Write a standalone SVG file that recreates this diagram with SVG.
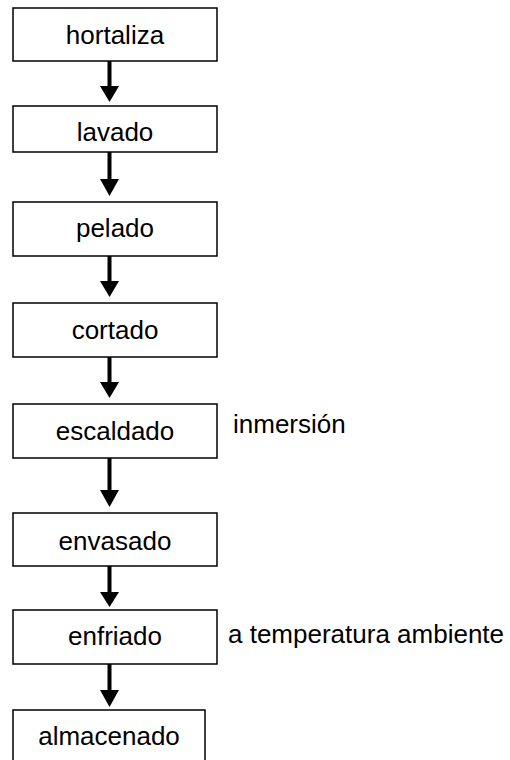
<svg xmlns="http://www.w3.org/2000/svg" width="510" height="760" viewBox="0 0 510 760">
<style>
.box{fill:#fff;stroke:#000;stroke-width:1.5}
.lbl{font-family:"Liberation Sans",Arial,sans-serif;font-size:26px;fill:#000}
.mid{text-anchor:middle}
.shaft{stroke:#000;stroke-width:4;fill:none}
.head{fill:#000}
</style>
<rect width="510" height="760" fill="#fff"/>
<g id="connectors">
<line class="shaft" x1="109.5" y1="61" x2="109.5" y2="88"/><polygon class="head" points="100,86 119,86 109.5,102"/>
<line class="shaft" x1="109.5" y1="152" x2="109.5" y2="181"/><polygon class="head" points="100,179 119,179 109.5,196"/>
<line class="shaft" x1="109.5" y1="256" x2="109.5" y2="283"/><polygon class="head" points="100,281 119,281 109.5,297"/>
<line class="shaft" x1="109.5" y1="357" x2="109.5" y2="384"/><polygon class="head" points="100,382 119,382 109.5,398"/>
<line class="shaft" x1="109.5" y1="458" x2="109.5" y2="492"/><polygon class="head" points="100,490 119,490 109.5,507"/>
<line class="shaft" x1="109.5" y1="566" x2="109.5" y2="594"/><polygon class="head" points="100,592 119,592 109.5,607"/>
<line class="shaft" x1="109.5" y1="664" x2="109.5" y2="692"/><polygon class="head" points="100,690 119,690 109.5,707"/>
</g>
<g id="n1"><rect class="box" x="13" y="8" width="204" height="53"/><text class="lbl mid" x="115" y="44">hortaliza</text></g>
<g id="n2"><rect class="box" x="13" y="106" width="204" height="46"/><text class="lbl mid" x="115" y="141">lavado</text></g>
<g id="n3"><rect class="box" x="13" y="202" width="204" height="54"/><text class="lbl mid" x="115" y="237">pelado</text></g>
<g id="n4"><rect class="box" x="13" y="303" width="204" height="54"/><text class="lbl mid" x="115" y="339">cortado</text></g>
<g id="n5"><rect class="box" x="13" y="404" width="204" height="54"/><text class="lbl mid" x="115" y="440">escaldado</text></g>
<g id="n6"><rect class="box" x="13" y="513" width="204" height="53"/><text class="lbl mid" x="115" y="550">envasado</text></g>
<g id="n7"><rect class="box" x="13" y="610" width="204" height="54"/><text class="lbl mid" x="115" y="645">enfriado</text></g>
<g id="n8"><rect class="box" x="13" y="710" width="192" height="54"/><text class="lbl mid" x="109" y="745">almacenado</text></g>
<g id="notes">
<text class="lbl" x="233" y="433">inmersión</text>
<text class="lbl" x="228" y="643">a temperatura ambiente</text>
</g>
</svg>
